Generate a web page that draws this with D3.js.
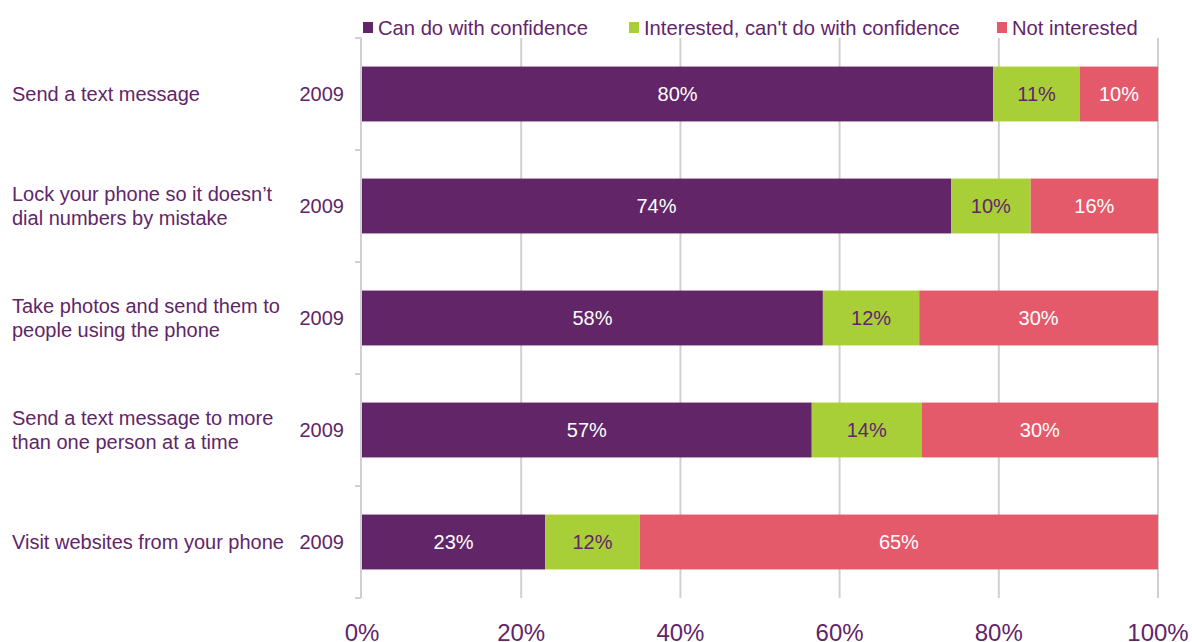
<!DOCTYPE html>
<html>
<head>
<title>Mobile phone tasks</title>
<script src="https://cdn.jsdelivr.net/npm/d3@7"></script>
<style>
body { margin: 0; background: #fff; }
svg { font-family: "Liberation Sans", Arial, sans-serif; }
</style>
</head>
<body>
<svg width="1192" height="642"></svg>
<script>
var tasks = [
  ["Send a text message"],
  ["Lock your phone so it doesn\u2019t", "dial numbers by mistake"],
  ["Take photos and send them to", "people using the phone"],
  ["Send a text message to more", "than one person at a time"],
  ["Visit websites from your phone"]
];
var years = ["2009", "2009", "2009", "2009", "2009"];
var seriesNames = ["Can do with confidence", "Interested, can't do with confidence", "Not interested"];
var canDo = [79.3, 74.0, 57.9, 56.5, 23.0];
var interested = [10.9, 10.0, 12.1, 13.8, 11.9];
var notInterested = [9.8, 16.0, 30.0, 29.7, 65.1];
var canDoLabels = ["80%", "74%", "58%", "57%", "23%"];
var interestedLabels = ["11%", "10%", "12%", "14%", "12%"];
var notInterestedLabels = ["10%", "16%", "30%", "30%", "65%"];
var ticks = [0, 20, 40, 60, 80, 100];

var colors = ["#622567", "#a9cf38", "#e55a6a"];
var textColor = "#62256a";

var svg = d3.select("svg");
var x = d3.scaleLinear().domain([0, 100]).range([362, 1158]);
var y = d3.scaleBand().domain(d3.range(tasks.length)).range([38, 598]).paddingInner(0.51).paddingOuter(0.255);
var step = y.step();

// gridlines
svg.selectAll("line.grid")
    .data(ticks.slice(1))
  .enter().append("line")
    .attr("x1", function(d){ return x(d); })
    .attr("x2", function(d){ return x(d); })
    .attr("y1", 38).attr("y2", 598)
    .attr("stroke", "#d0d0d0").attr("stroke-width", 2);

// category axis line + ticks
svg.append("line")
    .attr("x1", x(0) - 1).attr("x2", x(0) - 1)
    .attr("y1", 38).attr("y2", 598)
    .attr("stroke", "#d0d0d0").attr("stroke-width", 2);
svg.selectAll("line.ytick")
    .data(d3.range(tasks.length + 1))
  .enter().append("line")
    .attr("x1", x(0) - 7).attr("x2", x(0) - 1)
    .attr("y1", function(i){ return 38 + i * step; })
    .attr("y2", function(i){ return 38 + i * step; })
    .attr("stroke", "#d0d0d0").attr("stroke-width", 2);

// stacked bars
var rows = tasks.map(function(t, i){
  return { i: i, vals: [canDo[i], interested[i], notInterested[i]],
           labels: [canDoLabels[i], interestedLabels[i], notInterestedLabels[i]] };
});
var segs = [];
rows.forEach(function(r){
  var start = 0;
  r.vals.forEach(function(v, k){
    segs.push({ i: r.i, k: k, x0: start, x1: start + v, label: r.labels[k] });
    start += v;
  });
});

svg.selectAll("rect.seg")
    .data(segs)
  .enter().append("rect")
    .attr("x", function(d){ return x(d.x0); })
    .attr("width", function(d){ return x(d.x1) - x(d.x0); })
    .attr("y", function(d){ return y(d.i); })
    .attr("height", y.bandwidth())
    .attr("fill", function(d){ return colors[d.k]; });

svg.selectAll("text.seg")
    .data(segs)
  .enter().append("text")
    .attr("x", function(d){ return (x(d.x0) + x(d.x1)) / 2; })
    .attr("y", function(d){ return y(d.i) + y.bandwidth() / 2 + 7; })
    .attr("text-anchor", "middle")
    .attr("font-size", 20)
    .attr("fill", function(d){ return d.k === 1 ? textColor : "#fff"; })
    .text(function(d){ return d.label; });

// category labels
svg.selectAll("text.cat")
    .data(tasks)
  .enter().append("text")
    .attr("font-size", 20)
    .attr("fill", textColor)
    .each(function(lines, i){
      var cy = y(i) + y.bandwidth() / 2 + 7;
      var first = cy - (lines.length - 1) * 12;
      d3.select(this).selectAll("tspan")
          .data(lines)
        .enter().append("tspan")
          .attr("x", 12)
          .attr("y", function(d, j){ return first + j * 24; })
          .text(function(d){ return d; });
    });

svg.selectAll("text.year")
    .data(years)
  .enter().append("text")
    .attr("x", 344)
    .attr("y", function(d, i){ return y(i) + y.bandwidth() / 2 + 7; })
    .attr("text-anchor", "end")
    .attr("font-size", 20)
    .attr("fill", textColor)
    .text(function(d){ return d; });

// value axis labels
svg.selectAll("text.xtick")
    .data(ticks)
  .enter().append("text")
    .attr("x", function(d){ return x(d); })
    .attr("y", 641)
    .attr("text-anchor", "middle")
    .attr("font-size", 24)
    .attr("fill", textColor)
    .text(function(d){ return d + "%"; });

// legend
var legendX = [363, 629, 997];
var legend = svg.selectAll("g.legend")
    .data(seriesNames)
  .enter().append("g")
    .attr("transform", function(d, i){ return "translate(" + legendX[i] + ",0)"; });
legend.append("rect")
    .attr("x", 0).attr("y", 22)
    .attr("width", 10).attr("height", 11)
    .attr("fill", function(d, i){ return colors[i]; });
legend.append("text")
    .attr("x", 15).attr("y", 35)
    .attr("font-size", 20.2)
    .attr("fill", textColor)
    .text(function(d){ return d; });
</script>
</body>
</html>
